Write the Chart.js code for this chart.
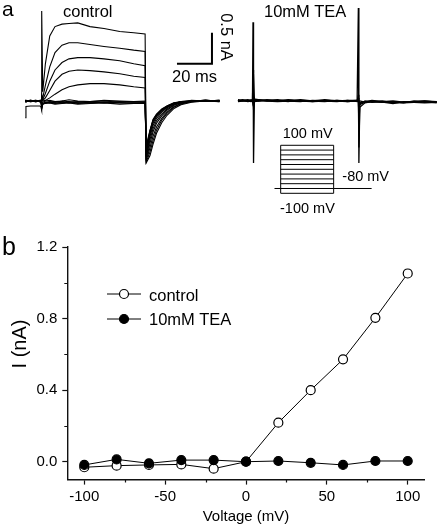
<!DOCTYPE html>
<html>
<head>
<meta charset="utf-8">
<script src="https://cdn.jsdelivr.net/npm/chart.js"></script>
<style>
  body { margin: 0; background: #fff; }
  #page { position: relative; width: 437px; height: 532px; overflow: hidden; font-family: 'Liberation Sans', Arial, sans-serif; color: #000; }
  canvas { position: absolute; }
  .t { position: absolute; line-height: 1; white-space: nowrap; }
  .rot { position: absolute; line-height: 1; white-space: nowrap; transform: translate(-50%, -50%) rotate(90deg); }
  .rotl { position: absolute; line-height: 1; white-space: nowrap; transform: translate(-50%, -50%) rotate(-90deg); }
  svg { position: absolute; }
</style>
</head>
<body>
<div id="page">
  <canvas id="ctl" width="220" height="230" style="left:0;top:0"></canvas>
  <canvas id="tea" width="217" height="230" style="left:220px;top:0"></canvas>
  <canvas id="proto" width="110" height="60" style="left:270px;top:140px"></canvas>
  <canvas id="iv" width="437" height="302" style="left:0;top:230px"></canvas>

  <div class="t" style="left:2px;top:-2px;font-size:21px">a</div>
  <div class="t" style="left:2px;top:234px;font-size:25px">b</div>
  <div class="t" style="left:63px;top:2.7px;font-size:16.5px">control</div>
  <div class="t" style="left:264px;top:2.5px;font-size:16.5px">10mM TEA</div>
  <div class="t" style="left:172px;top:67.5px;font-size:16.5px">20 ms</div>
  <div class="rot" style="left:226.5px;top:37px;font-size:16.5px">0.5 nA</div>
  <div class="t" style="left:282.7px;top:126px;font-size:14.5px">100 mV</div>
  <div class="t" style="left:342.3px;top:169.4px;font-size:14.5px">-80 mV</div>
  <div class="t" style="left:280px;top:201px;font-size:14.5px">-100 mV</div>

  <svg style="left:107px;top:284px" width="34" height="20">
    <line x1="0" y1="10" x2="34" y2="10" stroke="#000" stroke-width="1"/>
    <circle cx="17" cy="10" r="4.5" fill="#fff" stroke="#000" stroke-width="1.2"/>
  </svg>
  <div class="t" style="left:149px;top:287px;font-size:16.5px">control</div>
  <svg style="left:107px;top:309px" width="34" height="20">
    <line x1="0" y1="10" x2="34" y2="10" stroke="#000" stroke-width="1"/>
    <circle cx="17" cy="10" r="4.5" fill="#000" stroke="#000" stroke-width="1.2"/>
  </svg>
  <div class="t" style="left:149px;top:311px;font-size:16.5px">10mM TEA</div>
  <div class="rotl" style="left:18.5px;top:344px;font-size:20px">I (nA)</div>
</div>

<script>
// ---- panel b: I-V data ----
const voltage = [-100, -80, -60, -40, -20, 0, 20, 40, 60, 80, 100];
const controlI = [-0.031, -0.022, -0.018, -0.015, -0.039, 0, 0.218, 0.4, 0.572, 0.804, 1.052];
const teaI = [-0.018, 0.013, -0.009, 0.009, 0.009, 0, 0.004, -0.006, -0.018, 0.004, 0.004];
const xMajor = [-100, -50, 0, 50, 100];
const xMinor = [-75, -25, 25, 75];
const yMajor = [0, 0.4, 0.8, 1.2];
const yMinor = [0.2, 0.6, 1.0];

// ---- panel a: control current traces (ms, nA), one per step ----
const ctlT = [-9, -8.6, -6, -3, -0.6, 0, 0.4, 1, 2.5, 5, 8, 12, 16, 21, 28, 36, 45, 53, 59.5, 60.1, 61, 62.3, 64, 66, 69, 72, 76, 80, 86, 94, 102];
const ctl100 = [-0.01, 0, 0.01, -0.01, 0, 0.02, 1.45, 0.15, 0.6, 1.05, 1.2, 1.24, 1.25, 1.26, 1.2, 1.17, 1.12, 1.1, 1.08, -1.0, -0.95, -0.88, -0.7, -0.52, -0.35, -0.23, -0.12, -0.06, -0.02, 0, 0];
const ctl80 = [0, 0.01, -0.01, 0, 0.01, 0, 0.1, 0.05, 0.25, 0.55, 0.78, 0.9, 0.94, 0.94, 0.91, 0.88, 0.85, 0.82, 0.8, -0.98, -0.92, -0.82, -0.64, -0.47, -0.31, -0.2, -0.1, -0.05, -0.01, 0.01, 0];
const ctl60 = [0.01, 0, 0, -0.01, 0, -0.02, 0.05, 0.02, 0.12, 0.32, 0.5, 0.62, 0.68, 0.7, 0.7, 0.68, 0.65, 0.6, 0.57, -0.95, -0.88, -0.75, -0.57, -0.42, -0.28, -0.18, -0.09, -0.04, -0.01, 0, 0.01];
const ctl40 = [0, -0.01, 0.01, 0, -0.01, 0, 0.03, 0.01, 0.05, 0.17, 0.32, 0.43, 0.48, 0.5, 0.49, 0.47, 0.44, 0.4, 0.38, -0.92, -0.84, -0.68, -0.5, -0.36, -0.24, -0.15, -0.07, -0.03, 0, 0.01, -0.01];
const ctl20 = [-0.01, 0, 0, 0.01, 0, 0, 0.02, 0, 0.01, 0.05, 0.11, 0.18, 0.23, 0.26, 0.28, 0.28, 0.26, 0.23, 0.21, -0.9, -0.8, -0.62, -0.45, -0.32, -0.21, -0.13, -0.06, -0.03, 0, 0, 0.01];
const ctl0 = [0, 0.01, 0, 0, -0.01, 0, -0.03, -0.02, 0, 0.01, -0.01, 0, 0.02, 0, -0.01, 0.01, 0, -0.01, 0, -0.88, -0.76, -0.57, -0.4, -0.28, -0.18, -0.11, -0.05, -0.02, 0.01, 0, 0];
const ctlm20 = [0.01, 0, -0.01, 0, 0, -0.02, -0.06, -0.05, -0.04, -0.03, -0.05, -0.04, -0.03, -0.05, -0.04, -0.03, -0.05, -0.04, -0.04, -0.85, -0.72, -0.53, -0.36, -0.25, -0.16, -0.1, -0.04, -0.01, 0, 0.01, 0];
const ctlm40 = [-0.01, 0, 0.01, 0, 0, -0.02, -0.08, -0.04, -0.02, -0.01, -0.02, 0, -0.01, -0.02, -0.01, 0, -0.02, -0.01, -0.02, -0.82, -0.68, -0.5, -0.33, -0.23, -0.15, -0.09, -0.04, -0.01, 0, 0, 0.01];
const ctlm60 = [0, 0.01, 0, 0.01, -0.01, -0.03, -0.1, -0.05, -0.03, -0.02, -0.01, -0.03, -0.02, -0.01, -0.03, -0.02, -0.01, -0.02, -0.02, -0.8, -0.65, -0.48, -0.31, -0.22, -0.14, -0.08, -0.03, -0.02, 0, 0.01, 0];
const ctlm80 = [-0.01, 0, 0, -0.01, 0, -0.03, -0.12, -0.05, -0.02, -0.03, -0.02, -0.01, -0.03, -0.02, -0.01, -0.03, -0.02, -0.01, -0.02, -0.78, -0.62, -0.47, -0.3, -0.21, -0.13, -0.08, -0.03, -0.01, 0, 0, -0.01];
const ctlm100 = [-0.27, -0.09, -0.08, -0.08, -0.08, -0.1, -0.15, -0.05, -0.03, -0.02, -0.04, -0.03, -0.02, -0.04, -0.03, -0.02, -0.03, -0.04, -0.03, -0.9, -0.7, -0.49, -0.32, -0.23, -0.14, -0.09, -0.04, -0.02, 0, 0.01, 0];

// scale bar: 20 ms, 0.5 nA
const barT = [77.7, 97.7, 97.7];
const barI = [0.6, 0.6, 1.1];

// ---- panel a: TEA traces ----
const teaT = [-8.6, -6, -3, -1, -0.3, 0, 0.3, 0.8, 3, 8, 14, 20, 27, 34, 41, 48, 54, 59.5, 60.2, 60.5, 61, 64, 68, 74, 80, 86, 92, 98, 105];
const tea1 = [0, 0.02, 0.01, 0, 0.01, 1.27, -1.0, 0.03, 0.02, 0, 0.01, -0.01, 0.02, 0, -0.01, 0.01, 0, 0.01, 0, -0.01, 0, -0.02, -0.01, 0, -0.03, -0.02, -0.01, -0.02, -0.01];
const tea2 = [0.01, 0, 0.02, 0.01, 0, 0.5, 0.45, 0.02, 0, 0.02, 0, 0.01, 0, -0.01, 0.01, 0, -0.01, 0, 1.5, -1.0, -0.06, -0.02, 0, -0.02, -0.01, -0.03, -0.02, 0, -0.02];
const tea3 = [-0.01, 0, 0, -0.01, 0, -0.06, -0.08, 0, 0.01, 0, -0.01, 0, 0.01, -0.01, 0, -0.01, 0.01, -0.01, 0.1, -0.75, -0.1, -0.03, -0.01, -0.02, -0.04, -0.01, -0.02, -0.03, -0.02];
const tea4 = [0, 0.01, -0.01, 0, -0.01, 0.05, -0.1, -0.01, 0, 0.01, 0.02, 0, -0.01, 0.01, 0, 0.01, -0.01, 0, 0.05, -0.4, -0.05, 0, -0.02, -0.01, -0.02, -0.03, 0, -0.01, -0.03];
const tea5 = [0.02, 0.01, 0, 0.02, 0, 0.02, -0.05, 0.01, 0.02, 0.01, 0, 0.02, 0.01, 0, 0.02, 0, 0.01, 0.01, 0, -0.2, -0.03, -0.01, 0.01, -0.01, 0, -0.02, -0.01, 0, -0.01];

// ---- voltage protocol inset ----
const stepLevels = [-100, -80, -60, -40, -20, 0, 20, 40, 60, 80, 100];
const stepOn = 0, stepOff = 60;
const holdV = -80;
const holdStart = -7, holdEnd = 103;

Chart.defaults.font.family = "'Liberation Sans', Arial, sans-serif";
Chart.defaults.color = '#000';

const pts = (ts, vs) => ts.map((t, i) => ({ x: t, y: vs[i] }));
const trace = (ts, vs, w) => ({
  data: pts(ts, vs), borderColor: '#000', borderWidth: w || 1,
  pointRadius: 0, fill: false, tension: 0
});
const hidden = (min, max) => ({ type: 'linear', display: false, min, max });
const base = (xs, ys) => ({
  responsive: false, animation: false, events: [],
  layout: { padding: 0 },
  plugins: { legend: { display: false }, tooltip: { enabled: false } },
  scales: { x: xs, y: ys }
});

// control traces
new Chart(document.getElementById('ctl'), {
  type: 'line',
  data: {
    datasets: [ctl100, ctl80, ctl60, ctl40, ctl20, ctl0, ctlm20, ctlm40, ctlm60, ctlm80, ctlm100]
      .map(v => trace(ctlT, v, 1.1))
      .concat([trace(barT, barI, 2)])
  },
  options: base(hidden(-23.43, 102.29), hidden(-2.081, 1.629))
});

// TEA traces
new Chart(document.getElementById('tea'), {
  type: 'line',
  data: { datasets: [tea1, tea2, tea3, tea4, tea5].map(v => trace(teaT, v, 1.3)) },
  options: base(hidden(-18.86, 105.14), hidden(-2.081, 1.629))
});

// voltage protocol
const protoSets = stepLevels.map(v => trace([stepOn, stepOff], [v, v], 1));
protoSets.push(trace([stepOn, stepOn], [stepLevels[0], stepLevels[stepLevels.length - 1]], 1));
protoSets.push(trace([stepOff, stepOff], [stepLevels[0], stepLevels[stepLevels.length - 1]], 1));
protoSets.push(trace([holdStart, stepOn], [holdV, holdV], 1));
protoSets.push(trace([stepOff, holdEnd], [holdV, holdV], 1));
new Chart(document.getElementById('proto'), {
  type: 'line',
  data: { datasets: protoSets },
  options: base(hidden(-12.1, 112.5), hidden(-127.9, 122))
});

// I-V plot
const axisColor = '#111';
const minorTicks = {
  id: 'minorTicks',
  afterDraw(chart) {
    const { ctx, chartArea, scales: { x, y } } = chart;
    ctx.save();
    ctx.strokeStyle = axisColor;
    ctx.lineWidth = 1.2;
    ctx.beginPath();
    xMinor.forEach(v => {
      const px = Math.round(x.getPixelForValue(v)) + 0.5;
      ctx.moveTo(px, chartArea.bottom);
      ctx.lineTo(px, chartArea.bottom + 3);
    });
    yMinor.forEach(v => {
      const py = Math.round(y.getPixelForValue(v)) + 0.5;
      ctx.moveTo(chartArea.left, py);
      ctx.lineTo(chartArea.left - 3, py);
    });
    ctx.stroke();
    ctx.restore();
  }
};

new Chart(document.getElementById('iv'), {
  type: 'line',
  data: {
    datasets: [{
      label: 'control',
      data: pts(voltage, controlI),
      borderColor: '#000', borderWidth: 1,
      pointRadius: 4.5, pointBorderWidth: 1.2,
      pointBackgroundColor: '#fff', pointBorderColor: '#000',
      order: 1
    }, {
      label: '10mM TEA',
      data: pts(voltage, teaI),
      borderColor: '#000', borderWidth: 1,
      pointRadius: 4.5, pointBorderWidth: 1.2,
      pointBackgroundColor: '#000', pointBorderColor: '#000',
      order: 0
    }]
  },
  options: {
    responsive: false, animation: false, events: [],
    layout: { padding: { top: 17, right: 12.3, left: 0, bottom: 0 } },
    plugins: { legend: { display: false }, tooltip: { enabled: false } },
    scales: {
      x: {
        type: 'linear', min: -110.5, max: 110.5,
        afterBuildTicks: s => { s.ticks = xMajor.map(v => ({ value: v })); },
        afterFit: s => { s.height = 52.4; },
        border: { display: true, color: axisColor, width: 1.4 },
        grid: { drawOnChartArea: false, drawTicks: true, tickLength: 5, tickColor: axisColor, tickWidth: 1.2 },
        ticks: { font: { size: 15 }, padding: 3.5, maxRotation: 0, callback: v => String(v) },
        title: { display: true, text: 'Voltage (mV)', font: { size: 15 }, padding: { top: 0, bottom: 6 } }
      },
      y: {
        type: 'linear', min: -0.1, max: 1.2,
        afterBuildTicks: s => { s.ticks = yMajor.map(v => ({ value: v })); },
        afterFit: s => { s.width = 67.3; },
        border: { display: true, color: axisColor, width: 1.4 },
        grid: { drawOnChartArea: false, drawTicks: true, tickLength: 5, tickColor: axisColor, tickWidth: 1.2 },
        ticks: { font: { size: 15 }, padding: 5, callback: v => Number(v).toFixed(1) }
      }
    }
  },
  plugins: [minorTicks]
});
</script>
</body>
</html>
